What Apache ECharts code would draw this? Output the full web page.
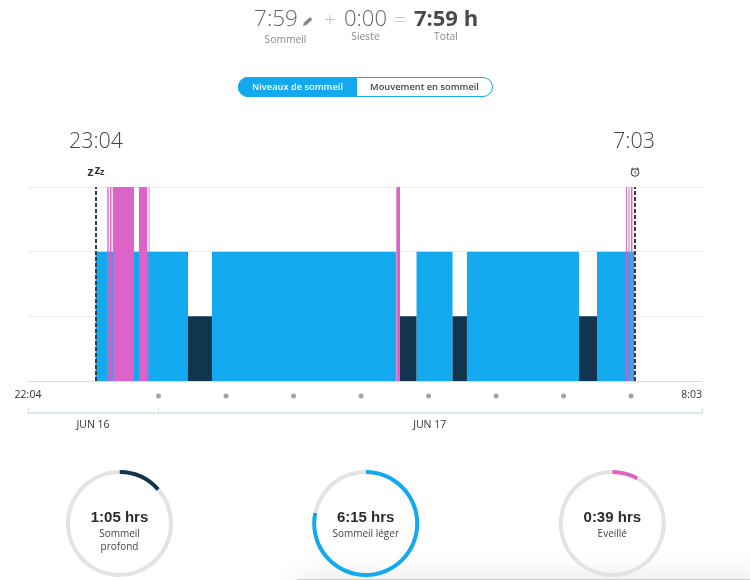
<!DOCTYPE html>
<html><head><meta charset="utf-8">
<style>html,body{margin:0;padding:0;background:#fff}#c{width:750px;height:580px}</style>
<script src="https://cdn.jsdelivr.net/npm/echarts@6/dist/echarts.min.js"></script>
</head><body><div id="c"></div>
<script>
// All times are minutes after 22:04
const totalSpan = 599;
const startMinute = 60;   // 23:04
const endMinute = 539;    // 7:03
const lightSpans = [[60,142.2],[163.5,327],[345.3,377.3],[390.1,489.7],[505.7,539]];
const deepSpans = [[142.2,163.5],[330.6,345.3],[377.3,390.1],[489.7,505.7]];
const awakeSpans = [[70.5,71.7],[72.9,74.2],[75.3,94.2],[98.6,106],[107.3,108],[327.3,330.6],[531.5,532.3],[533.7,534.6],[535.9,537.2]];
const hourDots = [116,176,236,296,356,416,476,536];
const edgeLabels = ['22:04','8:03'];
const dayLabels = ['JUN 16','JUN 17'];
const dayBounds = [0,116,599];
const dayLabelAt = [57.8,357];
const ringNames = [['Sommeil','profond'],['Sommeil léger'],['Eveillé']];
const ringValues = [65,375,39];
const ringTexts = ['1:05 hrs','6:15 hrs','0:39 hrs'];
const ringTotal = 479;

const BLUE='#12a9ee', PINK='#dc64c8', DARK='#11354f', TRACK='#e3e3e3';
const OS='"Open Sans",sans-serif', AR='"Liberation Sans",Arial,sans-serif';

function spanSeries(name, spans, level, color){
  return {type:'custom',name,xAxisIndex:0,yAxisIndex:0,silent:true,
    encode:{x:[0,1],y:2},
    data:spans.map(s=>[s[0],s[1],level]),
    renderItem:(p,api)=>{
      const a=api.coord([api.value(0),api.value(2)]);
      const b=api.coord([api.value(1),0]);
      return {type:'rect',shape:{x:a[0],y:a[1],width:b[0]-a[0],height:b[1]-a[1]},style:{fill:color}};
    }};
}
function ring(cx,val,color){
  return {type:'pie',silent:true,center:[cx,523.5],radius:[49.5,53.5],startAngle:90,clockwise:true,
    label:{show:false},labelLine:{show:false},animation:false,
    data:[{value:val,itemStyle:{color}},{value:ringTotal-val,itemStyle:{color:TRACK}}]};
}
const t=(text,x,y,font,fill,align)=>({type:'text',x,y,z:5,style:{text,font,fill,align:align||'center',verticalAlign:'middle'}});
const ringCx=[119.5,365.7,612.3];
const graphics=[
  {type:'rect',z:-1,shape:{x:297,y:579,width:470,height:12},style:{fill:'#cfcfcf',shadowBlur:26,shadowColor:'rgba(0,0,0,0.16)'}},
  t('7:59',276,20,'300 22.5px '+OS,'#666'),
  {type:'polygon',shape:{points:[[303,26],[304,22.5],[310,17],[312.5,19.5],[306.5,25]]},style:{fill:'#888'}},
  t('+',330,21,'300 20px '+OS,'#c4c4c4'),
  t('0:00',365.5,20,'300 22px '+OS,'#666'),
  t('=',400,21,'300 20px '+OS,'#c4c4c4'),
  t('7:59 h',446,20,'700 22px '+OS,'#4a4a4a'),
  t('Sommeil',285.5,40,'10.3px '+OS,'#8a8a8a'),
  t('Sieste',365.5,37.5,'10.3px '+OS,'#8a8a8a'),
  t('Total',446,37.5,'10.3px '+OS,'#8a8a8a'),
  {type:'rect',shape:{x:238.5,y:77.5,width:254,height:19,r:9.5},style:{fill:'#fff',stroke:BLUE,lineWidth:1}},
  {type:'rect',shape:{x:238,y:77,width:119,height:20,r:[10,0,0,10]},style:{fill:BLUE}},
  t('Niveaux de sommeil',297.5,87,'600 9.3px '+OS,'#fff'),
  t('Mouvement en sommeil',424.5,87,'600 9.3px '+OS,'#444'),
  t('23:04',96,142,'300 21.5px '+OS,'#444'),
  t('7:03',634,142,'300 21.5px '+OS,'#444'),
  t('z',90.5,172.5,'700 13px '+AR,'#333'),
  t('z',97.5,170.5,'700 12px '+AR,'#333'),
  t('z',102.3,173,'700 9px '+AR,'#333'),
  {type:'circle',shape:{cx:635,cy:172.5,r:3.8},style:{fill:'none',stroke:'#333',lineWidth:1}},
  {type:'polyline',shape:{points:[[635,170.5],[635,172.7],[636.6,173.6]]},style:{fill:'none',stroke:'#333',lineWidth:.8}},
  {type:'line',shape:{x1:631,y1:169.5,x2:633,y2:167.8},style:{stroke:'#333',lineWidth:1}},
  {type:'line',shape:{x1:639,y1:169.5,x2:637,y2:167.8},style:{stroke:'#333',lineWidth:1}},
];
ringCx.forEach((cx,i)=>{
  graphics.push(t(ringTexts[i],cx,517.5,'700 15px '+AR,'#2c2c2c'));
  ringNames[i].forEach((n,j)=>graphics.push(t(n,cx,534+j*13.5,'10px '+OS,'#444')));
});

const chart=echarts.init(document.getElementById('c'),null,{renderer:'canvas'});
chart.setOption({
  animation:false,
  backgroundColor:'#fff',
  grid:[
    {left:28,right:48,top:187,height:194},
    {left:28,right:48,top:396,height:17}
  ],
  xAxis:[
    {type:'value',gridIndex:0,min:0,max:totalSpan,splitLine:{show:false},
     axisLine:{show:true,lineStyle:{color:'#cfdde8',width:1}},axisTick:{show:false},
     axisLabel:{customValues:[0,totalSpan],formatter:v=>v===0?edgeLabels[0]:edgeLabels[1],
       margin:9,fontFamily:OS,fontSize:10.5,color:'#333',alignMinLabel:'center',alignMaxLabel:'right',showMinLabel:true,showMaxLabel:true}},
    {type:'value',gridIndex:1,min:0,max:totalSpan,splitLine:{show:false},
     axisLine:{show:true,lineStyle:{color:'#d5dfe6',width:1.5}},
     axisTick:{show:true,inside:true,length:5,customValues:dayBounds,lineStyle:{color:'#d5dfe6',width:1}},
     axisLabel:{customValues:dayLabelAt,formatter:v=>v<100?dayLabels[0]:dayLabels[1],margin:7,fontFamily:OS,fontSize:10.5,color:'#333',showMinLabel:true,showMaxLabel:true}}
  ],
  yAxis:[
    {type:'value',gridIndex:0,min:0,max:3,interval:1,axisLine:{show:false},axisTick:{show:false},axisLabel:{show:false},
     splitLine:{show:true,lineStyle:{color:'#e9eef2',width:1}}},
    {type:'value',gridIndex:1,min:0,max:1,show:false}
  ],
  series:[
    spanSeries('Sommeil léger',lightSpans,2,BLUE),
    spanSeries('Sommeil profond',deepSpans,1,DARK),
    Object.assign(spanSeries('Eveillé',awakeSpans,3,PINK),{
      markLine:{silent:true,symbol:'none',label:{show:false},animation:false,
        lineStyle:{color:'#3a3a3a',type:[4,2],width:2},
        data:[{xAxis:startMinute},{xAxis:endMinute}]}
    }),
    {type:'scatter',xAxisIndex:1,yAxisIndex:1,silent:true,clip:false,symbolSize:5,
     itemStyle:{color:'#8c8c8c'},data:hourDots.map(h=>[h,1])},
    ...ringCx.map((cx,i)=>ring(cx,ringValues[i],[DARK,BLUE,PINK][i]))
  ],
  graphic:graphics
});
</script></body></html>
